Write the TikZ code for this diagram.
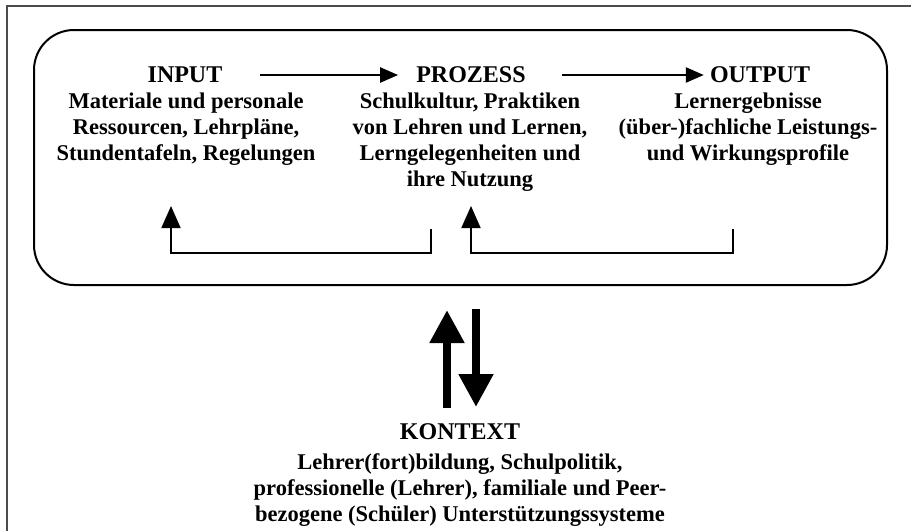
\documentclass[tikz,border=0pt]{standalone}
\usepackage{fontspec}
\setmainfont{Liberation Serif}
\usetikzlibrary{arrows.meta}

\begin{document}
\begin{tikzpicture}[x=1pt, y=-1pt,
    titel/.style={font=\bfseries\fontsize{24}{26}\selectfont, inner sep=0pt},
    inhalt/.style={font=\bfseries\fontsize{22.5}{26}\selectfont, align=center, inner sep=0pt, anchor=north},
    fluss/.style={line width=2.4pt, -{Triangle[length=18pt, width=15pt]}},
    rueck/.style={line width=1.8pt, -{Triangle[length=22pt, width=19pt]}},
    wechsel/.style={line width=8pt, -{Triangle[length=33pt, width=33pt]}}]
        \useasboundingbox (0,0) rectangle (911,531);
        % Rahmen
        \draw[line width=2pt, black!70] (7,531) -- (7,6) -- (911,6);
        % Schule
        \node[draw, line width=2pt, rounded corners=40pt, minimum width=853pt, minimum height=255pt] (schule) at (460.5,157.5) {};
        \node[titel] (input) at (185,75) {INPUT};
        \node[titel] (prozess) at (471,75) {PROZESS};
        \node[titel] (output) at (760,75) {OUTPUT};
        \node[inhalt] (inputtext) at (186,93) {Materiale und personale\\Ressourcen, Lehrpläne,\\Stundentafeln, Regelungen};
        \node[inhalt] (prozesstext) at (470,93) {Schulkultur, Praktiken\\von Lehren und Lernen,\\Lerngelegenheiten und\\ihre Nutzung};
        \node[inhalt] (outputtext) at (748,93) {Lernergebnisse\\(über-)fachliche Leistungs-\\und Wirkungsprofile};
        \draw[fluss, shorten <=37pt, shorten >=18pt] (input.east) -- (prozess.west);
        \draw[fluss, shorten <=36pt, shorten >=6pt] (prozess.east) -- (output.west);
        % Rueckkopplung
        \coordinate (r1) at (431,229);
        \coordinate (l1) at (171,206);
        \coordinate (r2) at (733,229);
        \coordinate (l2) at (471,206);
        \draw[rueck] (r1) -- ++(0,24) -| (l1);
        \draw[rueck] (r2) -- ++(0,24) -| (l2);
        % Kontext
        \node[titel] (kontext) at (460,432) {KONTEXT};
        \node[inhalt] (kontexttext) at (460,453) {Lehrer(fort)bildung, Schulpolitik,\\professionelle (Lehrer), familiale und Peer-\\bezogene (Schüler) Unterstützungssysteme};
        \coordinate (hoch1) at (447,408);
        \coordinate (hoch2) at (447,310);
        \coordinate (runter1) at (476,309);
        \coordinate (runter2) at (476,407);
        \draw[wechsel] (hoch1) -- (hoch2);
        \draw[wechsel] (runter1) -- (runter2);
    \end{tikzpicture}
\end{document}
